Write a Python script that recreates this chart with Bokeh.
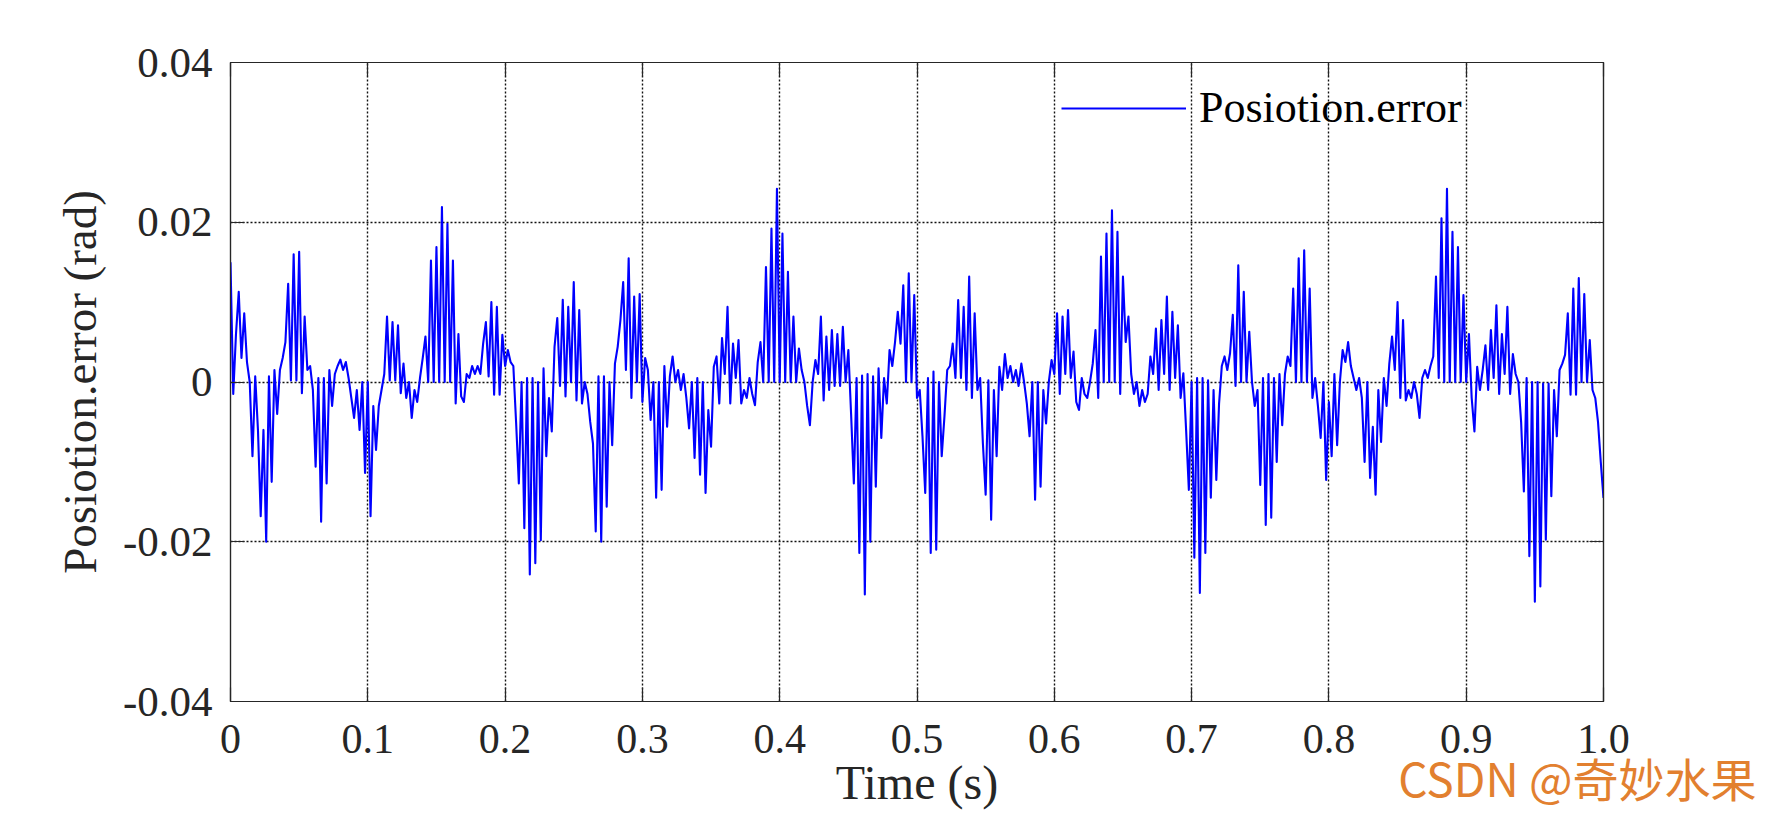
from bokeh.plotting import figure
from bokeh.models import (Range1d, FixedTicker, LinearAxis, Legend, LegendItem, Title)
from bokeh.embed import file_html
from bokeh.resources import INLINE

# ---------------- data (position error, milliradians, sampled every 2 ms) ----------------
SAMPLE_PERIOD_S = 0.002

err_00_01 = [15.0, -1.5, 6, 11.3, 3, 8.6, 2.5, 0, -9.3, 0.7, -6, -16.8, -6, -20, 0.7, -12.5, 1.5, -4, 1.5, 3,
             5, 12.3, 0.2, 16, 0.2, 16.3, -1.4, 8.2, 1.5, 2, -1, -10.6, 0.5, -17.5, 0.5, -12.7, 1.5, -3, 1, 2,
             2.8, 1.5, 2.5, 0.5, -2, -4.5, -1, -6, 0, -11.4]
err_01_02 = [0, -16.8, -3, -8.5, -3, -1, 1, 8.2, 0.2, 7.5, 0.2, 7.1, -1.4, 2.3, -2, 0, -4.5, -1, -2.5, 0.5,
             3, 5.7, 0, 15.2, 0, 16.9, 0, 21.9, 0, 19.8, 0, 15.2, -2.7, 6, -1.8, -2.5, 1, 0.5, 2, 1,
             2, 1, 4.8, 7.5, 0.7, 10, -1.6, 9.4, -1.6, 5.9]
err_02_03 = [2, 4, 2.5, 2, -5, -12.7, 0, -18.3, 0.5, -24.1, 0.5, -22.7, 0, -19.8, 1.7, -9.3, -2, -6.2, 4.4, 8,
             -0.5, 10.3, -1.8, 9.4, 0, 12.5, -2.3, 9, -2.7, 0, -1.5, -5, -7.7, -18.7, 0.7, -20, 0.7, -15.6, 0, -7.9,
             2.3, 4.4, 7.75, 12.5, 1.5, 15.5, -2, 10.7, 0, 11]
err_03_04 = [-2.5, 3, 1.5, -4.75, 0, -14.5, 0, -13.5, 2, -5.6, 0.7, 3.2, 0, 1.5, -1, 1, -2, -5.8, 0, -9.5,
             0.5, -11.6, 0, -13.9, -3.5, -8.1, 1.9, 3.2, -2.7, 5.5, 1, 9.4, -2.7, 4.8, 0.5, 5.25, -2.7, -1, -2, 0.5,
             -1.5, -2.9, 2.5, 5, 0, 14.4, 0, 19.2, 0, 24.2]
err_04_05 = [0, 18.6, 0, 13.8, 0, 8.2, 0, 4.2, 1.5, 0, -3, -5.4, 0, 2.75, 1, 8.2, -2.3, 5.7, -1, 6.5,
             -0.5, 6, -0.5, 6.9, 0, 4, -4, -12.7, 0.5, -21.4, 0.8, -26.6, 1, -20, 0.7, -13.1, 1.7, -7, 0.5, -2.7,
             4, 2, 5, 8.8, 4.8, 12.1, 0, 13.6, 0, 10.9]
err_05_06 = [-2, -1, -6.8, -13.9, 0.5, -21.4, 1.3, -21, 0, -9.3, -4.3, 1.5, 2, 4.8, 0.5, 10.25, 0.5, 9.4, -1, 13.2,
             -2, 8.6, -1, 0.5, -7.7, -14.1, 0.2, -17.25, -1, -9.3, 1.9, -1, 3.5, 0.5, 2, 0, 1.5, -0.5, 2.3, 0,
             -2.7, -6.8, 0, -14.75, 0, -13.1, -1, -5.2, 0, 2.75]
err_06_07 = [1, 8.6, -1.5, 8.2, 1, 9, 0.5, 3.8, -2.5, -3.5, 0.5, -1.5, -2, 0, 2.3, 6.5, -2, 15.7, 0, 18.6,
             0, 21.5, 0, 18.8, -1.5, 13.2, 5, 8.2, 1, -1.5, 0, -3, -1, -2.5, -1.5, 3.2, 1, 6.7, -1, 7.75,
             1, 10.7, -1, 8.8, 0.5, 7.1, -2, 1.1, -6, -13.5]
err_07_08 = [0, -22, 0.5, -26.4, 0.5, -21.4, 0.2, -14.5, -1, -12.25, -2.7, 2, 3.2, 1.5, 3.6, 8.4, -0.5, 14.6, 0, 11.3,
             0, 6.3, 0, -3, -1, -12.9, 0.5, -17.9, 1, -17, 0.5, -10, 1, -5.4, 1, 3.2, 2, 11.7, 0, 15.5,
             0, 16.5, 0, 11.7, -2, 0.5, -3, -7, 0, -12.25]
err_08_09 = [-2.5, -9.3, 1, -7.9, 0, 4, 2.5, 5, 2, 0.5, -1, 0.5, -2, -10, 0, -12, -5.6, -14.1, -1, -7.5,
             0.5, -3, 2.3, 5.7, 1.5, 10, -2, 7.75, -2.3, -1, -2, 0, -1.5, -4.5, 0.5, 1.5, 0.5, 2, 3.2, 13.2,
             0.5, 20.5, 0, 24.2, 0, 18.8, 0, 16.9, 0, 10.9]
err_09_10 = [0, 6, -2, -6.2, 1.9, -1, 1.5, 4.6, -1, 6.5, 0.5, 9.6, -1.5, 6, 1, 9.4, -1.5, 3.5, 1, 0,
             -5, -13.7, 0.5, -21.8, 0, -27.5, 0, -25.6, -0.2, -19.75, -0.2, -14.3, -1, -6.8, 1.5, 2.3, 3.4, 8.6, -1.6, 11.7,
             -1.6, 13, 0, 11, 0, 5.25, -1, -2, -5, -10, -14.5]

x_ticks = [0, 0.1, 0.2, 0.3, 0.4, 0.5, 0.6, 0.7, 0.8, 0.9, 1.0]
x_tick_labels = ["0", "0.1", "0.2", "0.3", "0.4", "0.5", "0.6", "0.7", "0.8", "0.9", "1.0"]
y_ticks = [-0.04, -0.02, 0, 0.02, 0.04]
y_tick_labels = ["-0.04", "-0.02", "0", "0.02", "0.04"]

series_name = "Posiotion.error"
x_label = "Time (s)"
y_label = "Posiotion.error (rad)"
watermark = "CSDN @奇妙水果"

error_mrad = (err_00_01 + err_01_02 + err_02_03 + err_03_04 + err_04_05 +
              err_05_06 + err_06_07 + err_07_08 + err_08_09 + err_09_10)
time_s = [i * SAMPLE_PERIOD_S for i in range(len(error_mrad))]
error_rad = [v / 1000.0 for v in error_mrad]

# ---------------- figure ----------------
FONT = "Liberation Serif"
AX_COLOR = "#262626"

p = figure(width=1756, height=811, output_backend="svg", toolbar_location=None,
           x_range=Range1d(0, 1), y_range=Range1d(-0.04, 0.04),
           min_border_left=230, min_border_right=153, min_border_top=62, min_border_bottom=109)
p.background_fill_color = "white"
p.border_fill_color = "white"
p.outline_line_color = AX_COLOR
p.outline_line_width = 1.2

r = p.line(time_s, error_rad, line_color="#0000FF", line_width=2.1, line_join="round")

# grid
p.xgrid.ticker = FixedTicker(ticks=x_ticks)
p.ygrid.ticker = FixedTicker(ticks=y_ticks)
for g in (p.xgrid, p.ygrid):
    g.grid_line_color = "#111111"
    g.grid_line_dash = "2 2"
    g.grid_line_width = 1.4
    g.grid_line_alpha = 1.0

def style_axis(ax, ticks, labels, show_labels):
    ax.ticker = FixedTicker(ticks=ticks)
    ax.major_label_overrides = {t: (l if show_labels else "") for t, l in zip(ticks, labels)}
    ax.major_tick_in = 14
    ax.major_tick_out = 0
    ax.minor_tick_line_color = None
    ax.axis_line_color = AX_COLOR
    ax.axis_line_width = 1.2
    ax.major_tick_line_color = AX_COLOR
    ax.major_tick_line_width = 1.2
    ax.major_label_text_font = FONT
    ax.major_label_text_color = "#262626"
    if not show_labels:
        ax.major_label_text_font_size = "0px"
        ax.major_label_standoff = 0

xa = p.xaxis[0]
style_axis(xa, x_ticks, x_tick_labels, True)
xa.major_label_text_font_size = "42px"
xa.major_label_standoff = 23
xa.axis_label = x_label
xa.axis_label_text_font = FONT
xa.axis_label_text_font_style = "normal"
xa.axis_label_text_font_size = "48px"
xa.axis_label_text_color = "#262626"
xa.axis_label_standoff = 0

ya = p.yaxis[0]
style_axis(ya, y_ticks, y_tick_labels, True)
ya.major_label_text_font_size = "43px"
ya.major_label_standoff = 18
ya.axis_label = y_label
ya.axis_label_text_font = FONT
ya.axis_label_text_font_style = "normal"
ya.axis_label_text_font_size = "47px"
ya.axis_label_text_color = "#262626"
ya.axis_label_standoff = 14

top_ax = LinearAxis()
style_axis(top_ax, x_ticks, x_tick_labels, False)
p.add_layout(top_ax, "above")
right_ax = LinearAxis()
style_axis(right_ax, y_ticks, y_tick_labels, False)
p.add_layout(right_ax, "right")

# legend (no box, MATLAB style)
legend = Legend(items=[LegendItem(label=series_name, renderers=[r])],
                location=(831, 568), orientation="vertical",
                glyph_width=125, glyph_height=40, label_standoff=13,
                label_text_font=FONT, label_text_font_size="44px", label_text_color="black",
                padding=0, margin=0, spacing=0,
                border_line_color=None, background_fill_alpha=0)
p.add_layout(legend, "center")

# watermark (in the bottom side panel so it is not clipped by the frame)
wm = Title(text=watermark, align="right", vertical_align="top", offset=-153, standoff=-136,
           text_font="Noto Sans CJK SC", text_font_size="46px", text_font_style="normal",
           text_color="#E2802F")
p.add_layout(wm, "below")

open("out.html", "w").write(file_html(p, INLINE))
